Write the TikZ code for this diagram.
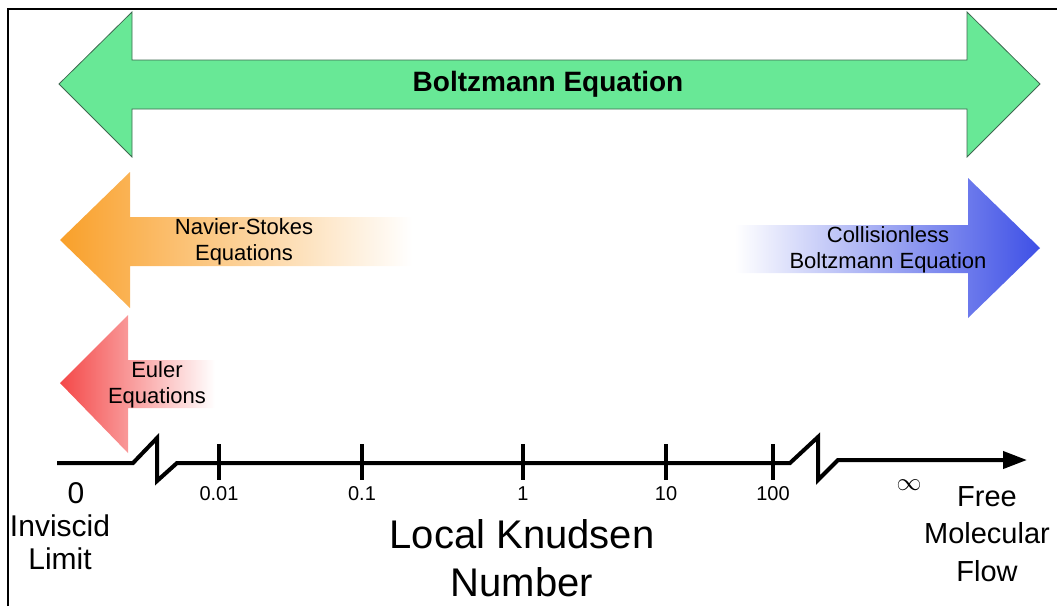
\documentclass[tikz,border=0pt]{standalone}
\usepackage{fontspec}
\setmainfont{Liberation Sans}
\usepackage{tikz}
\usetikzlibrary{arrows.meta}

\definecolor{bgreen}{RGB}{104,232,150}
\definecolor{bgreenedge}{RGB}{62,104,80}
\definecolor{nsorange}{RGB}{249,160,42}
\definecolor{eured}{RGB}{244,72,72}
\definecolor{cbblue}{RGB}{62,80,230}

\begin{document}
\begin{tikzpicture}[x=1pt,y=-1pt,line join=miter]
\tikzstyle{every node}=[inner sep=0pt,align=center,text=black]
\tikzstyle{eqtext}=[font=\fontsize{22}{26}\selectfont]
\tikzstyle{ticktext}=[font=\fontsize{20}{24}\selectfont]
\tikzstyle{endtext}=[font=\fontsize{30}{33}\selectfont]
\tikzstyle{axis}=[line width=4pt]
\useasboundingbox (0,0) rectangle (1057,606);
% frame
\draw[line width=2pt] (8,606) -- (8,9) -- (1057,9);

% Boltzmann (both ways)
\draw[fill=bgreen,draw=bgreenedge,line width=0.8pt] (59,84) -- (132,12) -- (132,60) -- (967,60) -- (967,12)
  -- (1040,84) -- (967,157) -- (967,109) -- (132,109) -- (132,157) -- cycle;
\node[font=\bfseries\fontsize{28}{32}\selectfont] (boltz) at (548,84) {Boltzmann Equation};

% Navier-Stokes
\path[left color=nsorange,right color=white] (60,240) -- (130,172) -- (130,217) -- (412,217) -- (412,266)
  -- (130,266) -- (130,308) -- cycle;
\node[eqtext] (ns) at (244,242) {Navier-Stokes\\Equations};

% collisionless
\path[left color=white,right color=cbblue] (1040,248) -- (968,178) -- (968,225) -- (735,225) -- (735,273)
  -- (968,273) -- (968,318) -- cycle;
\node[eqtext] (cb) at (888,250) {Collisionless\\Boltzmann Equation};

% Euler
\path[left color=eured,right color=white] (60,383) -- (128,315) -- (128,360) -- (215,360) -- (215,408)
  -- (128,408) -- (128,453) -- cycle;
\node[eqtext] (eu) at (157,385) {Euler\\Equations};

% Knudsen axis
\coordinate (kzero) at (57,463);
\coordinate (kinf) at (1027,460);
\draw[axis,-{Triangle[length=24pt,width=17pt]}] (kzero) -- (133,463) -- (157,438) -- (157,481) -- (177,463)
  -- (790,463) -- (818,437) -- (818,480) -- (838,460) -- (kinf);
\foreach \x/\lab/\nm in {219/0.01/ka,362/0.1/kb,523/1/kc,666/10/kd,773/100/ke}
{
  \draw[axis] (\x,444) -- (\x,480);
  \node[ticktext] (\nm) at (\x,494) {\lab};
}
\node[endtext] (zero) at (76,493) {0};
\node[endtext] (invisc) at (60,542) {Inviscid\\Limit};
\node[font=\fontsize{24}{24}\selectfont] (infty) at (909,485) {$\infty$};
\node[font=\fontsize{29}{37.5}\selectfont] (fmf) at (987,534) {Free\\Molecular\\Flow};
\node[font=\fontsize{40}{48}\selectfont] (knud) at (522,558) {Local Knudsen\\Number};
\end{tikzpicture}
\end{document}
